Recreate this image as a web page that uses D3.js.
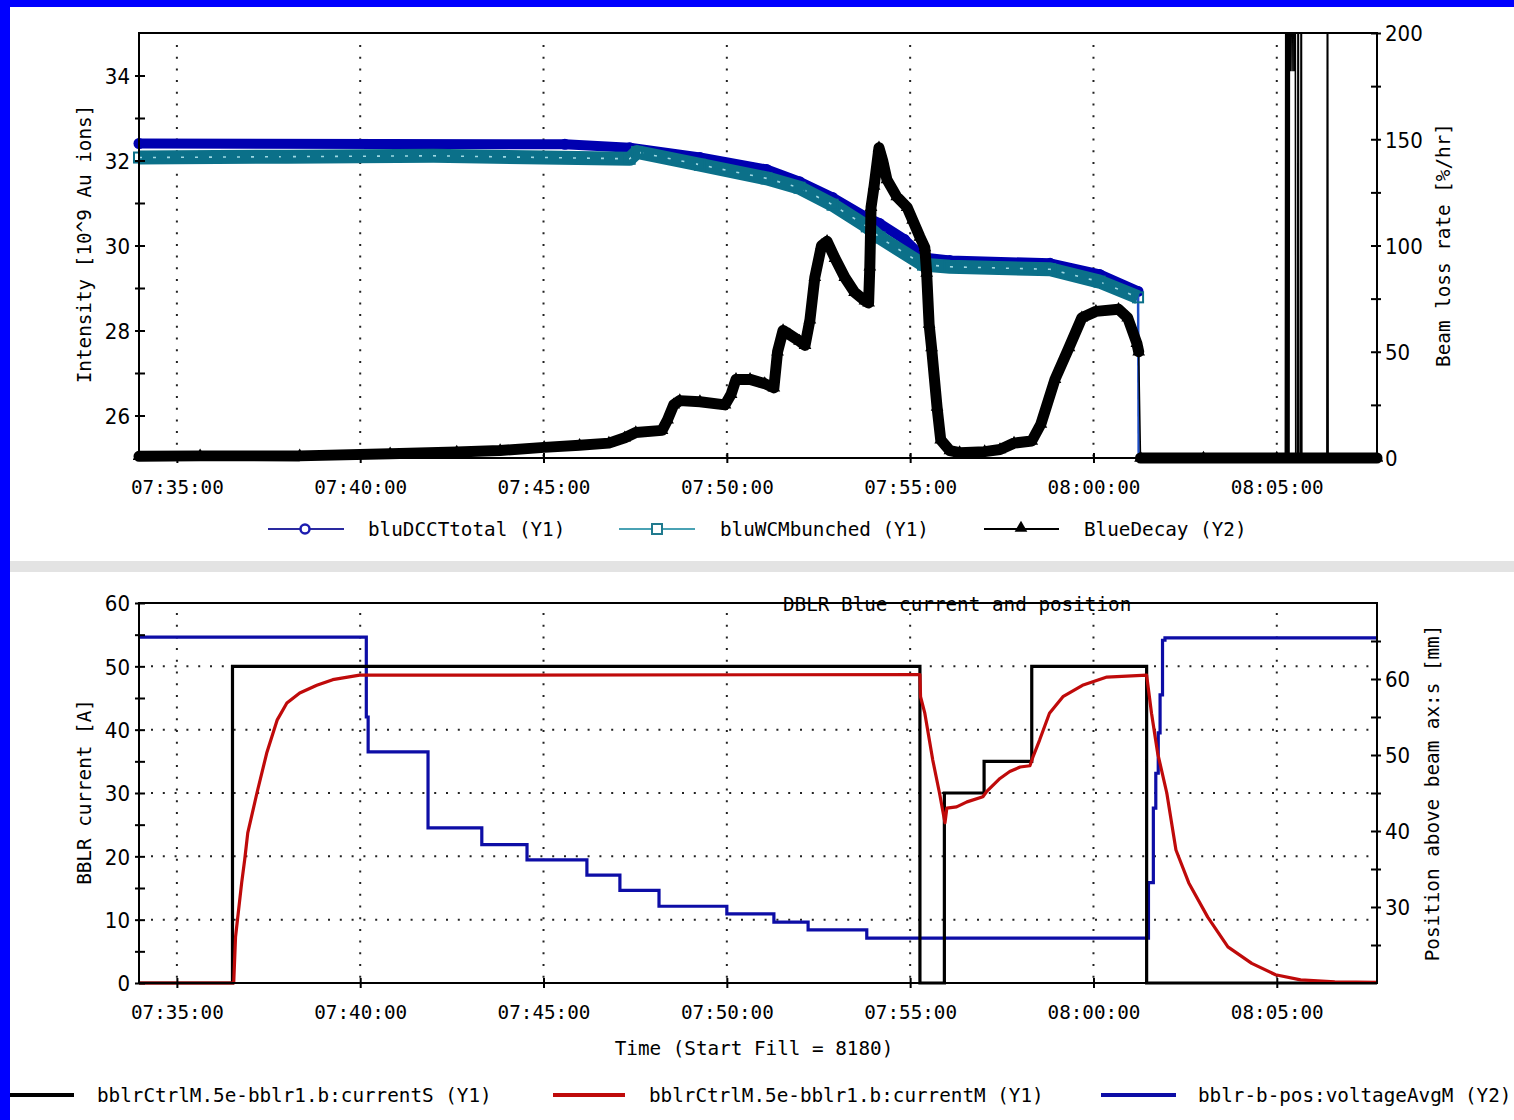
<!DOCTYPE html>
<html>
<head>
<meta charset="utf-8">
<script src="https://cdn.jsdelivr.net/npm/d3@7"></script>
<style>
  html, body { margin: 0; padding: 0; background: #fff; }
  svg { display: block; }
  .mono { font-family: "DejaVu Sans Mono", "Liberation Mono", monospace; font-size: 19.3px; fill: #000; }
  .num  { font-family: "Liberation Sans Narrow", "DejaVu Sans Condensed", "Liberation Sans", sans-serif; font-size: 22px; fill: #000; }
</style>
</head>
<body>
<svg id="chart" width="1514" height="1120"></svg>
<script>
// ---------- shared time axis ----------
const timeDomain = ["07:33:58", "08:07:44"];
const timeTicks = ["07:35:00", "07:40:00", "07:45:00", "07:50:00", "07:55:00", "08:00:00", "08:05:00"];

// ---------- upper panel: beam intensity and loss rate ----------
const intensityMajor = [26, 28, 30, 32, 34];
const intensityMinor = [27, 29, 31, 33];
const lossRateMajor = [0, 50, 100, 150, 200];
const lossRateMinor = [25, 75, 125, 175];

// [time, 10^9 Au ions]
const bluDCCTtotal = [
  ["07:33:58", 32.40], ["07:45:35", 32.38], ["07:47:21", 32.30], ["07:49:16", 32.07],
  ["07:51:05", 31.79], ["07:51:59", 31.50], ["07:52:53", 31.13], ["07:53:49", 30.66],
  ["07:54:10", 30.52], ["07:54:51", 30.14], ["07:55:21", 29.72], ["07:56:05", 29.65],
  ["07:58:49", 29.58], ["08:00:10", 29.32], ["08:01:13", 28.92]
];
const bluWCMbunched = [
  ["07:33:58", 32.07], ["07:38:00", 32.09], ["07:42:00", 32.11], ["07:47:21", 32.04],
  ["07:47:33", 32.20], ["07:49:16", 31.90], ["07:51:05", 31.58], ["07:51:59", 31.36],
  ["07:52:53", 30.96], ["07:53:49", 30.45], ["07:54:10", 30.19], ["07:55:21", 29.55],
  ["07:56:05", 29.50], ["07:58:49", 29.44], ["08:00:10", 29.15], ["08:01:13", 28.78]
];
// beam dump: intensity signals fall to the bottom of the scale
const intensityDump = [["08:01:14", 25.0]];

// [time, %/hr]
const blueDecay = [
  ["07:33:58", 0.8], ["07:35:38", 1.0], ["07:38:21", 1.0], ["07:40:49", 2.0], ["07:42:38", 2.8],
  ["07:43:49", 3.5], ["07:45:01", 5.0], ["07:45:59", 6.0], ["07:46:47", 7.0], ["07:47:13", 9.5],
  ["07:47:31", 12.0], ["07:48:14", 13.0], ["07:48:23", 18], ["07:48:33", 25], ["07:48:43", 27],
  ["07:49:16", 26.5], ["07:49:57", 25], ["07:50:07", 30], ["07:50:15", 37], ["07:50:38", 37],
  ["07:51:02", 35], ["07:51:17", 33], ["07:51:23", 50], ["07:51:32", 60], ["07:51:43", 58],
  ["07:51:59", 55], ["07:52:08", 53], ["07:52:16", 65], ["07:52:24", 85], ["07:52:35", 100],
  ["07:52:44", 102], ["07:52:57", 94], ["07:53:13", 85], ["07:53:29", 78], ["07:53:46", 74],
  ["07:53:52", 73], ["07:53:54", 90], ["07:53:56", 118], ["07:54:01", 128], ["07:54:09", 146],
  ["07:54:15", 140], ["07:54:22", 131], ["07:54:38", 123], ["07:54:55", 118], ["07:55:04", 112],
  ["07:55:16", 104], ["07:55:24", 99], ["07:55:27", 87], ["07:55:31", 63], ["07:55:35", 52],
  ["07:55:44", 24], ["07:55:50", 8.5], ["07:56:05", 3.5], ["07:56:21", 2.5], ["07:57:02", 3],
  ["07:57:27", 4], ["07:57:50", 7], ["07:58:19", 8], ["07:58:34", 16], ["07:58:57", 37],
  ["07:59:20", 52], ["07:59:41", 66], ["08:00:04", 69], ["08:00:41", 70], ["08:00:56", 66],
  ["08:01:11", 54], ["08:01:14", 50]
];
const blueDecayAfterDump = [["08:01:17", 0], ["08:03:00", 0], ["08:05:00", 0], ["08:07:44", 0]];
// off-scale readings after the dump
const blueDecaySpikes = [
  ["08:05:14", 0], ["08:05:15", 320], ["08:05:16", 0], ["08:05:17", 0], ["08:05:18", 320], ["08:05:19", 0],
  ["08:05:20", 0], ["08:05:21", 320], ["08:05:22", 182], ["08:05:24", 320], ["08:05:25", 182],
  ["08:05:27", 320], ["08:05:28", 182], ["08:05:30", 320], ["08:05:31", 0], ["08:05:34", 0],
  ["08:05:35", 320], ["08:05:36", 0], ["08:05:39", 0], ["08:05:40", 320], ["08:05:41", 0],
  ["08:06:22", 0], ["08:06:23", 320], ["08:06:24", 0]
];

// ---------- lower panel: BBLR current and position ----------
const currentMajor = [0, 10, 20, 30, 40, 50, 60];
const currentMinor = [5, 15, 25, 35, 45, 55];
const positionMajor = [30, 40, 50, 60];
const positionMinor = [25, 35, 45, 55, 65];

// [time, A]
const bblrCurrentS = [
  ["07:33:58", 0], ["07:36:31", 50], ["07:55:16", 0], ["07:55:56", 30], ["07:57:01", 35],
  ["07:58:19", 50], ["08:01:27", 0], ["08:07:44", 0]
];
const bblrCurrentM = [
  ["07:33:58", 0], ["07:36:33", 0], ["07:36:36", 7.3], ["07:36:46", 15.8], ["07:36:51", 19.5],
  ["07:36:56", 23.7], ["07:37:11", 30], ["07:37:27", 36.3], ["07:37:44", 41.5], ["07:38:00", 44.2],
  ["07:38:21", 45.8], ["07:38:49", 47], ["07:39:15", 47.9], ["07:39:59", 48.6], ["07:55:16", 48.7],
  ["07:55:17", 45.2], ["07:55:24", 42.6], ["07:55:37", 35.2], ["07:55:48", 30], ["07:55:57", 25.3],
  ["07:56:00", 27.6], ["07:56:16", 27.8], ["07:56:33", 28.6], ["07:56:59", 29.4], ["07:57:05", 30.2],
  ["07:57:27", 32.3], ["07:57:43", 33.4], ["07:58:00", 34.1], ["07:58:16", 34.3], ["07:58:21", 35.7],
  ["07:58:32", 38.4], ["07:58:48", 42.6], ["07:59:10", 45.2], ["07:59:42", 47], ["08:00:22", 48.3],
  ["08:01:27", 48.6], ["08:01:35", 42.6], ["08:01:45", 36.3], ["08:02:00", 30], ["08:02:15", 21],
  ["08:02:36", 15.8], ["08:03:07", 10.4], ["08:03:40", 5.7], ["08:04:19", 3.1], ["08:04:58", 1.3],
  ["08:05:39", 0.5], ["08:06:35", 0.2], ["08:07:44", 0.1]
];
// [time, mm]
const bblrPosition = [
  ["07:33:58", 65.5], ["07:40:10", 55.0], ["07:40:13", 50.4], ["07:41:51", 40.4], ["07:43:19", 38.2],
  ["07:44:33", 36.2], ["07:46:11", 34.2], ["07:47:05", 32.2], ["07:48:09", 30.1], ["07:50:00", 29.1],
  ["07:51:17", 28.0], ["07:52:13", 27.0], ["07:53:49", 25.9], ["08:01:30", 33.2], ["08:01:38", 43.0],
  ["08:01:42", 47.6], ["08:01:46", 52.9], ["08:01:49", 57.9], ["08:01:53", 65.1], ["08:01:57", 65.4],
  ["08:07:44", 65.4]
];

// ---------- drawing ----------
const parseT = d3.timeParse("%H:%M:%S");
const fmtT = d3.timeFormat("%H:%M:%S");
const svg = d3.select("#chart");

// page frame
svg.append("rect").attr("width", 1514).attr("height", 1120).attr("fill", "#fff");
svg.append("rect").attr("x", 0).attr("y", 0).attr("width", 10).attr("height", 1120).attr("fill", "#0000ff");
svg.append("rect").attr("x", 0).attr("y", 0).attr("width", 1514).attr("height", 7).attr("fill", "#0000ff");
svg.append("rect").attr("x", 10).attr("y", 561).attr("width", 1504).attr("height", 11).attr("fill", "#e3e3e3");

const x = d3.scaleTime().domain(timeDomain.map(parseT)).range([139, 1377]);
const tx = d => x(parseT(d[0]));

function verticalGrid(g, yBot, start) {
  g.append("g").selectAll("line").data(timeTicks).join("line")
    .attr("x1", d => x(parseT(d))).attr("x2", d => x(parseT(d)))
    .attr("y1", start).attr("y2", yBot)
    .attr("stroke", "#222").attr("stroke-width", 2).attr("stroke-dasharray", "2,9.7");
}

function timeAxis(g, yPos) {
  const a = g.append("g").attr("transform", `translate(0,${yPos})`)
    .call(d3.axisBottom(x).tickValues(timeTicks.map(parseT)).tickFormat(fmtT).tickSize(10));
  a.select(".domain").remove();
  a.attr("font-family", null).attr("font-size", null);
  a.selectAll(".tick line").attr("y1", -5).attr("y2", 5).attr("stroke", "#000").attr("stroke-width", 2);
  a.selectAll(".tick text").attr("class", "mono").attr("y", 29).attr("dy", "0.36em");
}

function sideAxis(g, scale, major, minor, xPos, side) {
  const vals = major.concat(minor);
  const gen = (side === "left" ? d3.axisLeft(scale) : d3.axisRight(scale))
    .tickValues(vals).tickFormat(d => major.includes(d) ? d : "").tickSize(10);
  const a = g.append("g").attr("transform", `translate(${xPos},0)`).call(gen);
  a.select(".domain").remove();
  a.attr("font-family", null).attr("font-size", null);
  a.selectAll(".tick line")
    .attr("x1", side === "left" ? 6 : -6).attr("x2", side === "left" ? -4 : 4)
    .attr("stroke", "#000").attr("stroke-width", 2);
  a.selectAll(".tick text").attr("class", "num")
    .attr("x", side === "left" ? -9 : 8).attr("dy", "0.36em");
}

function vTitle(text, cx, cy) {
  svg.append("text").attr("class", "mono").attr("text-anchor", "middle").attr("dy", "0.36em")
    .attr("transform", `translate(${cx},${cy}) rotate(-90)`).text(text);
}

// ======== upper panel ========
const upper = { l: 139, r: 1377, t: 33, b: 458 };
const yI = d3.scaleLinear().domain([25, 35]).range([upper.b, upper.t]);
const yL = d3.scaleLinear().domain([0, 200]).range([upper.b, upper.t]);
const gTop = svg.append("g");

verticalGrid(gTop, upper.b, upper.t + 12);

svg.append("clipPath").attr("id", "clipTop").append("rect")
  .attr("x", 133).attr("y", upper.t).attr("width", upper.r - 133 + 6).attr("height", upper.b - upper.t + 8);
const topPlot = gTop.append("g").attr("clip-path", "url(#clipTop)");

const lineI = d3.line().x(tx).y(d => yI(d[1]));
const lineL = d3.line().x(tx).y(d => yL(d[1]));

// bluDCCTtotal: dense circle markers form a band
topPlot.append("path").datum(bluDCCTtotal).attr("d", lineI)
  .attr("fill", "none").attr("stroke", "#0000b0").attr("stroke-width", 10)
  .attr("stroke-linejoin", "round").attr("stroke-linecap", "round");
topPlot.append("g").selectAll("circle").data(bluDCCTtotal).join("circle")
  .attr("cx", tx).attr("cy", d => yI(d[1])).attr("r", 5.5)
  .attr("fill", "#0000b0");
// drop at the beam dump
topPlot.append("path").datum([bluDCCTtotal[bluDCCTtotal.length - 1], ...intensityDump]).attr("d", lineI)
  .attr("fill", "none").attr("stroke", "#1f4fc8").attr("stroke-width", 2.5);

// bluWCMbunched: square markers
topPlot.append("path").datum(bluWCMbunched).attr("d", lineI)
  .attr("fill", "none").attr("stroke", "#0b7089").attr("stroke-width", 14)
  .attr("stroke-linejoin", "round").attr("stroke-linecap", "butt");
topPlot.append("path").datum(bluWCMbunched).attr("d", lineI)
  .attr("fill", "none").attr("stroke", "#9fd9e4").attr("stroke-width", 1.6)
  .attr("stroke-dasharray", "3,11");
topPlot.append("g").selectAll("rect").data(bluWCMbunched).join("rect")
  .attr("x", d => tx(d) - 5).attr("y", d => yI(d[1]) - 5).attr("width", 10).attr("height", 10)
  .attr("fill", "none").attr("stroke", "#0b7089").attr("stroke-width", 2);

// BlueDecay: triangle markers
const tri = d3.symbol().type(d3.symbolTriangle).size(70);
topPlot.append("path").datum(blueDecay.concat(blueDecayAfterDump)).attr("d", lineL)
  .attr("fill", "none").attr("stroke", "#000").attr("stroke-width", 1.5);
topPlot.append("path").datum(blueDecay).attr("d", lineL)
  .attr("fill", "none").attr("stroke", "#000").attr("stroke-width", 11)
  .attr("stroke-linejoin", "round").attr("stroke-linecap", "round");
topPlot.append("path").datum(blueDecayAfterDump).attr("d", lineL)
  .attr("fill", "none").attr("stroke", "#000").attr("stroke-width", 11).attr("stroke-linecap", "round");
topPlot.append("g").selectAll("path").data(blueDecay.concat(blueDecayAfterDump)).join("path")
  .attr("d", tri).attr("transform", d => `translate(${tx(d)},${yL(d[1])})`).attr("fill", "#000");
topPlot.append("path").datum(blueDecaySpikes).attr("d", lineL)
  .attr("fill", "none").attr("stroke", "#000").attr("stroke-width", 1.6);

// frame and axes
gTop.append("rect").attr("x", upper.l).attr("y", upper.t).attr("width", upper.r - upper.l).attr("height", upper.b - upper.t)
  .attr("fill", "none").attr("stroke", "#000").attr("stroke-width", 2);
sideAxis(gTop, yI, intensityMajor, intensityMinor, upper.l, "left");
sideAxis(gTop, yL, lossRateMajor, lossRateMinor, upper.r, "right");
timeAxis(gTop, upper.b);
vTitle("Intensity [10^9 Au ions]", 84, 244);
vTitle("Beam loss rate [%/hr]", 1443, 245);

// upper legend
const legTop = svg.append("g");
const ly = 529;
legTop.append("line").attr("x1", 268).attr("x2", 344).attr("y1", ly).attr("y2", ly).attr("stroke", "#2a2aa0").attr("stroke-width", 2);
legTop.append("circle").attr("cx", 305).attr("cy", ly).attr("r", 4.5).attr("fill", "#fff").attr("stroke", "#1c1cb0").attr("stroke-width", 2.5);
legTop.append("text").attr("class", "mono").attr("x", 368).attr("y", ly).attr("dy", "0.36em").text("bluDCCTtotal (Y1)");
legTop.append("line").attr("x1", 619).attr("x2", 695).attr("y1", ly).attr("y2", ly).attr("stroke", "#4aa2b4").attr("stroke-width", 2);
legTop.append("rect").attr("x", 652).attr("y", ly - 5).attr("width", 10).attr("height", 10).attr("fill", "#fff").attr("stroke", "#207a8e").attr("stroke-width", 2);
legTop.append("text").attr("class", "mono").attr("x", 720).attr("y", ly).attr("dy", "0.36em").text("bluWCMbunched (Y1)");
legTop.append("line").attr("x1", 984).attr("x2", 1059).attr("y1", ly).attr("y2", ly).attr("stroke", "#000").attr("stroke-width", 2);
legTop.append("path").attr("d", tri).attr("transform", `translate(1021,${ly - 1})`).attr("fill", "#000");
legTop.append("text").attr("class", "mono").attr("x", 1084).attr("y", ly).attr("dy", "0.36em").text("BlueDecay (Y2)");

// ======== lower panel ========
const lower = { l: 139, r: 1377, t: 603, b: 983 };
const yC = d3.scaleLinear().domain([0, 60]).range([lower.b, lower.t]);
const yP = d3.scaleLinear().domain([20, 70]).range([lower.b, lower.t]);
const gBot = svg.append("g");

verticalGrid(gBot, lower.b, lower.t + 10);
gBot.append("g").selectAll("line").data([10, 20, 30, 40, 50]).join("line")
  .attr("x1", lower.l + 12).attr("x2", lower.r - 4).attr("y1", d => yC(d)).attr("y2", d => yC(d))
  .attr("stroke", "#222").attr("stroke-width", 2).attr("stroke-dasharray", "2,9.8");

svg.append("clipPath").attr("id", "clipBot").append("rect")
  .attr("x", lower.l).attr("y", lower.t).attr("width", lower.r - lower.l).attr("height", lower.b - lower.t + 3);
const botPlot = gBot.append("g").attr("clip-path", "url(#clipBot)");

const stepP = d3.line().curve(d3.curveStepAfter).x(tx).y(d => yP(d[1]));
const stepC = d3.line().curve(d3.curveStepAfter).x(tx).y(d => yC(d[1]));
const lineC = d3.line().x(tx).y(d => yC(d[1]));

botPlot.append("path").datum(bblrPosition).attr("d", stepP)
  .attr("fill", "none").attr("stroke", "#0d0da6").attr("stroke-width", 3.2);
botPlot.append("path").datum(bblrCurrentS).attr("d", stepC)
  .attr("fill", "none").attr("stroke", "#000").attr("stroke-width", 3.2);
botPlot.append("path").datum(bblrCurrentM).attr("d", lineC)
  .attr("fill", "none").attr("stroke", "#bf0a0a").attr("stroke-width", 3.2).attr("stroke-linejoin", "round");

gBot.append("rect").attr("x", lower.l).attr("y", lower.t).attr("width", lower.r - lower.l).attr("height", lower.b - lower.t)
  .attr("fill", "none").attr("stroke", "#000").attr("stroke-width", 2);
sideAxis(gBot, yC, currentMajor, currentMinor, lower.l, "left");
sideAxis(gBot, yP, positionMajor, positionMinor, lower.r, "right");
timeAxis(gBot, lower.b);

svg.append("text").attr("class", "mono").attr("x", 783).attr("y", 611).text("DBLR Blue current and position");
svg.append("text").attr("class", "mono").attr("x", (lower.l + lower.r) / 2 - 4).attr("y", 1048)
  .attr("dy", "0.36em").attr("text-anchor", "middle").text("Time (Start Fill = 8180)");
vTitle("BBLR current [A]", 84, 792);
vTitle("Position above beam ax:s [mm]", 1432, 793);

// lower legend
const legBot = svg.append("g");
const by = 1095;
legBot.append("line").attr("x1", 10).attr("x2", 74).attr("y1", by).attr("y2", by).attr("stroke", "#000").attr("stroke-width", 4);
legBot.append("text").attr("class", "mono").attr("x", 97).attr("y", by).attr("dy", "0.36em").text("bblrCtrlM.5e-bblr1.b:currentS (Y1)");
legBot.append("line").attr("x1", 553).attr("x2", 625).attr("y1", by).attr("y2", by).attr("stroke", "#bf0a0a").attr("stroke-width", 4);
legBot.append("text").attr("class", "mono").attr("x", 649).attr("y", by).attr("dy", "0.36em").text("bblrCtrlM.5e-bblr1.b:currentM (Y1)");
legBot.append("line").attr("x1", 1101).attr("x2", 1176).attr("y1", by).attr("y2", by).attr("stroke", "#0d0da6").attr("stroke-width", 4);
legBot.append("text").attr("class", "mono").attr("x", 1198).attr("y", by).attr("dy", "0.36em").text("bblr-b-pos:voltageAvgM (Y2)");
</script>
</body>
</html>
